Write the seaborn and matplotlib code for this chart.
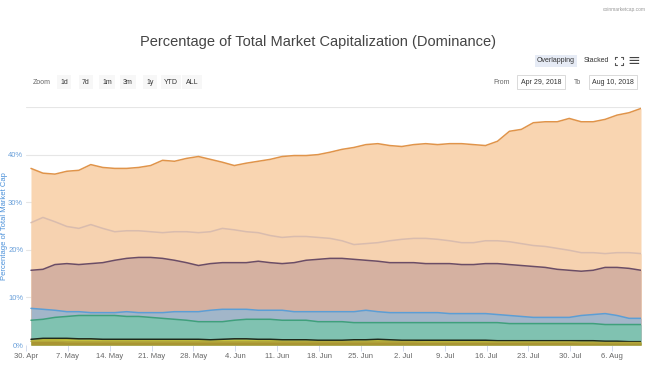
import pandas as pd
import numpy as np

import matplotlib.pyplot as plt
import seaborn as sns
from matplotlib.lines import Line2D


# daily-ish samples (every 2 days), in % of total market cap
dates = pd.date_range("2018-04-30 20:00", periods=52, freq="2D")

bitcoin = [37.1, 36.1, 35.9, 36.5, 36.7, 37.9, 37.3, 37.1, 37.1, 37.3,
           37.7, 38.8, 38.6, 39.2, 39.6, 39.0, 38.4, 37.7, 38.2, 38.6,
           39.0, 39.6, 39.8, 39.8, 40.0, 40.5, 41.1, 41.5, 42.1, 42.3,
           41.9, 41.7, 42.1, 42.3, 42.1, 42.3, 42.3, 42.1, 41.9, 42.8,
           44.9, 45.3, 46.7, 46.9, 46.9, 47.6, 46.9, 46.9, 47.4, 48.3,
           48.8, 49.7]

others = [25.7, 26.8, 25.9, 24.9, 24.5, 25.3, 24.5, 23.8, 24.0, 24.0,
          23.8, 23.6, 23.8, 23.8, 23.6, 23.8, 24.5, 24.2, 23.8, 23.6,
          23.0, 22.6, 22.8, 22.8, 22.6, 22.4, 21.9, 21.1, 21.3, 21.5,
          21.9, 22.2, 22.4, 22.4, 22.2, 21.9, 21.5, 21.5, 21.9, 21.9,
          21.7, 21.3, 20.9, 20.7, 20.3, 19.9, 19.4, 19.4, 19.2, 19.4,
          19.4, 19.2]

ethereum = [15.7, 15.9, 16.9, 17.1, 16.9, 17.1, 17.3, 17.8, 18.2, 18.4,
            18.4, 18.2, 17.8, 17.3, 16.7, 17.1, 17.3, 17.3, 17.3, 17.6,
            17.3, 17.1, 17.3, 17.8, 18.0, 18.2, 18.2, 18.0, 17.8, 17.6,
            17.3, 17.3, 17.3, 17.1, 17.1, 17.1, 16.9, 16.9, 17.1, 17.1,
            16.9, 16.7, 16.5, 16.3, 15.9, 15.7, 15.5, 15.7, 16.3, 16.3,
            16.1, 15.7]

ripple = [7.7, 7.5, 7.3, 7.0, 7.0, 6.8, 6.8, 6.8, 7.0, 6.8,
          6.8, 6.8, 7.0, 7.0, 7.0, 7.3, 7.5, 7.5, 7.5, 7.3,
          7.3, 7.3, 7.0, 7.0, 7.0, 7.0, 7.0, 7.0, 7.3, 7.0,
          6.8, 6.8, 6.8, 6.8, 6.8, 6.6, 6.6, 6.6, 6.6, 6.4,
          6.2, 6.0, 5.8, 5.8, 5.8, 5.8, 6.2, 6.4, 6.6, 6.2,
          5.6, 5.6]

bitcoin_cash = [5.2, 5.4, 5.8, 6.0, 6.2, 6.2, 6.2, 6.2, 6.0, 6.0,
                5.8, 5.6, 5.4, 5.2, 4.9, 4.9, 4.9, 5.2, 5.4, 5.4,
                5.4, 5.2, 5.2, 5.2, 4.9, 4.9, 4.9, 4.7, 4.7, 4.7,
                4.7, 4.7, 4.7, 4.7, 4.7, 4.7, 4.7, 4.7, 4.7, 4.7,
                4.5, 4.5, 4.5, 4.5, 4.5, 4.5, 4.5, 4.5, 4.3, 4.3,
                4.3, 4.3]

eos = [1.2, 1.4, 1.4, 1.4, 1.3, 1.3, 1.2, 1.2, 1.2, 1.2,
       1.2, 1.2, 1.2, 1.2, 1.2, 1.1, 1.2, 1.3, 1.3, 1.2,
       1.2, 1.1, 1.1, 1.1, 1.0, 1.0, 1.0, 1.1, 1.1, 1.2,
       1.1, 1.0, 1.0, 1.0, 1.0, 1.0, 1.0, 1.0, 1.0, 0.9,
       0.9, 0.9, 0.9, 0.9, 0.9, 0.9, 0.9, 0.9, 0.8, 0.8,
       0.7, 0.7]

litecoin = [0.8, 0.8, 0.8, 0.7, 0.7, 0.7, 0.7, 0.7, 0.7, 0.7,
            0.7, 0.7, 0.7, 0.7, 0.7, 0.7, 0.7, 0.7, 0.7, 0.7,
            0.7, 0.7, 0.7, 0.7, 0.7, 0.7, 0.7, 0.7, 0.7, 0.7,
            0.7, 0.7, 0.7, 0.6, 0.6, 0.6, 0.6, 0.6, 0.6, 0.6,
            0.6, 0.6, 0.6, 0.6, 0.6, 0.6, 0.5, 0.5, 0.5, 0.5,
            0.5, 0.5]

series_names = ["Bitcoin", "Others", "Ethereum", "Ripple",
                "Bitcoin Cash", "EOS", "Litecoin"]
line_colors = ["#e0944a", "#d9bcae", "#6b4d66", "#5b9ed6",
               "#3fa07c", "#1e2a1c", "#b3a83c"]
fill_colors = ["#f9d5b1", "#f6d2b0", "#d5b1a1", "#a2b6c9",
               "#80c2b1", "#c6c23c", "#a99533"]

tick_dates = pd.date_range("2018-04-30", "2018-08-06", freq="7D")
tick_labels = ["30. Apr", "7. May", "14. May", "21. May", "28. May",
               "4. Jun", "11. Jun", "18. Jun", "25. Jun", "2. Jul",
               "9. Jul", "16. Jul", "23. Jul", "30. Jul", "6. Aug"]

df = pd.DataFrame({"date": dates})
for name, vals in zip(series_names,
                      [bitcoin, others, ethereum, ripple,
                       bitcoin_cash, eos, litecoin]):
    df[name] = vals


sns.set_theme(style="white")
plt.rcParams["font.family"] = ["Liberation Sans", "DejaVu Sans"]

fig = plt.figure(figsize=(6.47, 3.76), dpi=100)
ax = fig.add_axes([26 / 647, 1 - 345 / 376, 615 / 647, 238 / 376])

for name, lc, fc in zip(series_names, line_colors, fill_colors):
    ax.fill_between(df["date"], 0, df[name], color=fc, lw=0, zorder=2)
    sns.lineplot(data=df, x="date", y=name, ax=ax, color=lc,
                 lw=1.1, zorder=3)

ax.set_xlim(pd.Timestamp("2018-04-30"), dates[-1])
ax.set_ylim(0, 50)

ax.set_yticks([0, 10, 20, 30, 40, 50])
ax.set_yticklabels(["0%", "10%", "20%", "30%", "40%", ""])
ax.yaxis.grid(True, color="#e6e6e6", lw=0.8, zorder=0)
ax.set_axisbelow(True)

ax.set_xticks(tick_dates)
ax.set_xticklabels(tick_labels)

ax.tick_params(axis="y", labelsize=5.5, labelcolor="#6aa0da",
               length=0, pad=2)
ax.tick_params(axis="x", labelsize=5.5, labelcolor="#666666",
               length=4, color="#ccd6eb", width=0.6, pad=2,
               bottom=True)

for s in ax.spines.values():
    s.set_visible(False)

ax.set_xlabel("")
ax.set_ylabel("Percentage of Total Market Cap", fontsize=5.5,
              color="#4a90d9")
ax.yaxis.set_label_coords(-0.029, 0.5)

# title and header controls
fig.text(318 / 647, 1 - 42 / 376,
         "Percentage of Total Market Capitalization (Dominance)",
         ha="center", va="center", fontsize=10.5, color="#444444")

fig.text(624 / 647, 1 - 10 / 376, "coinmarketcap.com",
         ha="center", va="center", fontsize=3.5, color="#999999")

fig.text(556 / 647, 1 - 61 / 376, "Overlapping", ha="center",
         va="center", fontsize=5, color="#333333",
         bbox=dict(boxstyle="square,pad=0.35", fc="#e6ebf5", ec="none"))
fig.text(596 / 647, 1 - 61 / 376, "Stacked", ha="center",
         va="center", fontsize=5, color="#333333")

# fullscreen icon: four small corner marks
cx, cy, r, k = 619, 61, 4, 2
for sx in (-1, 1):
    for sy in (-1, 1):
        px, py = cx + sx * r, cy + sy * r
        fig.add_artist(Line2D([px / 647, (px - sx * k) / 647],
                              [1 - py / 376, 1 - py / 376],
                              color="#555555", lw=0.8))
        fig.add_artist(Line2D([px / 647, px / 647],
                              [1 - py / 376, 1 - (py - sy * k) / 376],
                              color="#555555", lw=0.8))

fig.text(634 / 647, 1 - 61 / 376, "\u2261", ha="center",
         va="center", fontsize=11, color="#444444",
         family=["DejaVu Sans"])

fig.text(42 / 647, 1 - 82 / 376, "Zoom", ha="center", va="center",
         fontsize=5, color="#666666")
zoom_buttons = ["1d", "7d", "1m", "3m", "1y", "YTD", "ALL"]
zoom_x = [64, 86, 107, 128, 150, 171, 192]
for lab, xp in zip(zoom_buttons, zoom_x):
    fig.text(xp / 647, 1 - 82 / 376, lab, ha="center", va="center",
             fontsize=5, color="#333333",
             bbox=dict(boxstyle="square,pad=0.5", fc="#f7f7f7", ec="none"))

fig.text(502 / 647, 1 - 82 / 376, "From", ha="center", va="center",
         fontsize=5, color="#666666")
fig.text(541 / 647, 1 - 82 / 376, "Apr 29, 2018", ha="center",
         va="center", fontsize=5, color="#333333",
         bbox=dict(boxstyle="square,pad=0.5", fc="white", ec="#cccccc",
                   lw=0.5))
fig.text(578 / 647, 1 - 82 / 376, "To", ha="center", va="center",
         fontsize=5, color="#666666")
fig.text(613 / 647, 1 - 82 / 376, "Aug 10, 2018", ha="center",
         va="center", fontsize=5, color="#333333",
         bbox=dict(boxstyle="square,pad=0.5", fc="white", ec="#cccccc",
                   lw=0.5))

fig.savefig("out.png", dpi=100)
